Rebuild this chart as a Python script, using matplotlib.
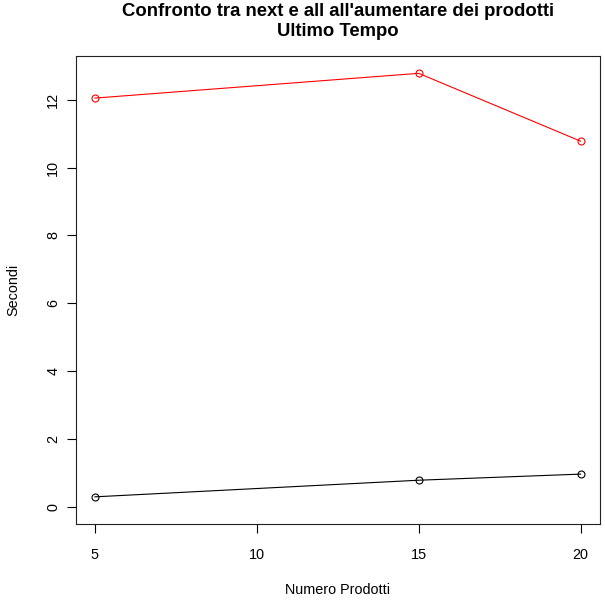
import matplotlib
matplotlib.use("Agg")
import matplotlib.pyplot as plt

prodotti = [5, 15, 20]
next_tempo = [0.29, 0.78, 0.96]
all_tempo = [12.05, 12.78, 10.78]
xticks = [5, 10, 15, 20]
yticks = [0, 2, 4, 6, 8, 10, 12]

plt.rcParams['font.family'] = ['Liberation Sans', 'DejaVu Sans']

W, H = 605, 602
fig = plt.figure(figsize=(W/100, H/100), dpi=100)
L, R, T, B = 75.5, 600, 56, 524
ax = fig.add_axes([L/W, 1-B/H, (R-L)/W, (B-T)/H])

ax.plot(prodotti, all_tempo, color='red', lw=0.8, marker='o', mfc='none', mec='red', ms=5, mew=0.8)
ax.plot(prodotti, next_tempo, color='black', lw=0.8, marker='o', mfc='none', mec='black', ms=5, mew=0.8)

xr = max(prodotti) - min(prodotti)
ax.set_xlim(min(prodotti) - 0.04*xr, max(prodotti) + 0.04*xr)
ymax = max(all_tempo)
ax.set_ylim(-0.04*ymax, ymax*1.04)
ax.set_xticks(xticks)
ax.set_yticks(yticks)
fs = 10.4
ax.set_xticklabels([str(v) for v in xticks], fontsize=fs)
ax.set_yticklabels([str(v) for v in yticks], fontsize=fs, rotation=90, va='center')
ax.tick_params(direction='out', length=6.5, width=0.8)
ax.tick_params(axis='x', pad=10.5)
ax.tick_params(axis='y', pad=4.5)
for s in ax.spines.values():
    s.set_linewidth(0.8)
    s.set_color('#222222')

cx = (L+R)/2/W
fig.text(cx, 1-12/H, "Confronto tra next e all all'aumentare dei prodotti",
         ha='center', va='center', fontsize=13.3, fontweight='bold')
fig.text(cx, 1-31/H, "Ultimo Tempo", ha='center', va='center', fontsize=13.3, fontweight='bold')
fig.text(cx, 1-590/H, "Numero Prodotti", ha='center', va='center', fontsize=fs)
fig.text(13/W, 1-(T+B)/2/H, "Secondi", ha='center', va='center', rotation=90, fontsize=fs)

fig.savefig("out.png", dpi=100)
